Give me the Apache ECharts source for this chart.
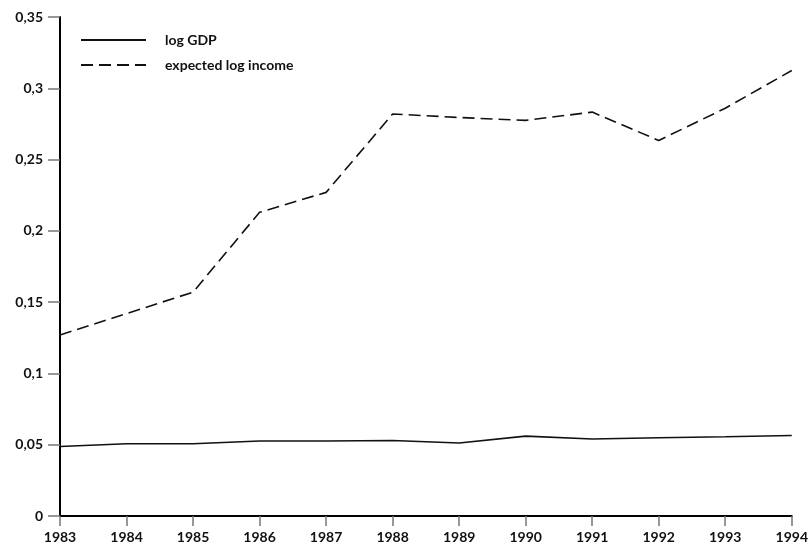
<!DOCTYPE html>
<html>
<head>
<meta charset="utf-8">
<script src="https://cdn.jsdelivr.net/npm/echarts@6/dist/echarts.min.js"></script>
<style>
html,body{margin:0;padding:0;background:#fff;}
#main{width:811px;height:552px;}
</style>
</head>
<body>
<div id="main"></div>
<script>
const years = ['1983','1984','1985','1986','1987','1988','1989','1990','1991','1992','1993','1994'];
const logGDP = [0.0488, 0.0507, 0.0507, 0.0526, 0.0526, 0.0530, 0.0512, 0.0560, 0.0540, 0.0549, 0.0556, 0.0565];
const expectedLogIncome = [0.127, 0.142, 0.157, 0.213, 0.227, 0.282, 0.2795, 0.2775, 0.2833, 0.2634, 0.286, 0.3125];
const seriesNames = ['log GDP', 'expected log income'];

const font = 'Lato';
const chart = echarts.init(document.getElementById('main'), null, {renderer: 'canvas'});
chart.setOption({
  animation: false,
  backgroundColor: '#fff',
  grid: {left: 60, right: 19, top: 17, bottom: 36, containLabel: false},
  legend: {
    orient: 'vertical',
    left: 75,
    top: 28,
    itemWidth: 65,
    itemHeight: 14,
    itemGap: 11,
    itemStyle: {opacity: 0},
    textStyle: {fontFamily: font, fontWeight: 'bold', fontSize: 14, color: '#111', padding: [0,0,0,14]},
    data: seriesNames
  },
  xAxis: {
    type: 'category',
    data: years,
    boundaryGap: false,
    axisLine: {lineStyle: {color: '#000', width: 2}},
    axisTick: {alignWithLabel: true, length: 10, lineStyle: {color: '#777', width: 1.5}},
    axisLabel: {fontFamily: font, fontWeight: 'bold', fontSize: 14, color: '#111', margin: 14, interval: 0}
  },
  yAxis: {
    type: 'value',
    min: 0, max: 0.35, interval: 0.05,
    axisLine: {show: true, lineStyle: {color: '#000', width: 2}},
    axisTick: {show: true, length: 12, lineStyle: {color: '#777', width: 1.5}},
    splitLine: {show: false},
    axisLabel: {
      fontFamily: font, fontWeight: 'bold', fontSize: 14, color: '#111', margin: 17,
      formatter: v => String(+v.toFixed(2)).replace('.', ',')
    }
  },
  series: [
    {
      name: seriesNames[0], type: 'line', data: logGDP,
      symbol: 'none', color: '#111',
      lineStyle: {color: '#111', width: 1.6}
    },
    {
      name: seriesNames[1], type: 'line', data: expectedLogIncome,
      symbol: 'none', color: '#111',
      lineStyle: {color: '#111', width: 1.6, type: [12, 6]}
    }
  ]
});
</script>
</body>
</html>
